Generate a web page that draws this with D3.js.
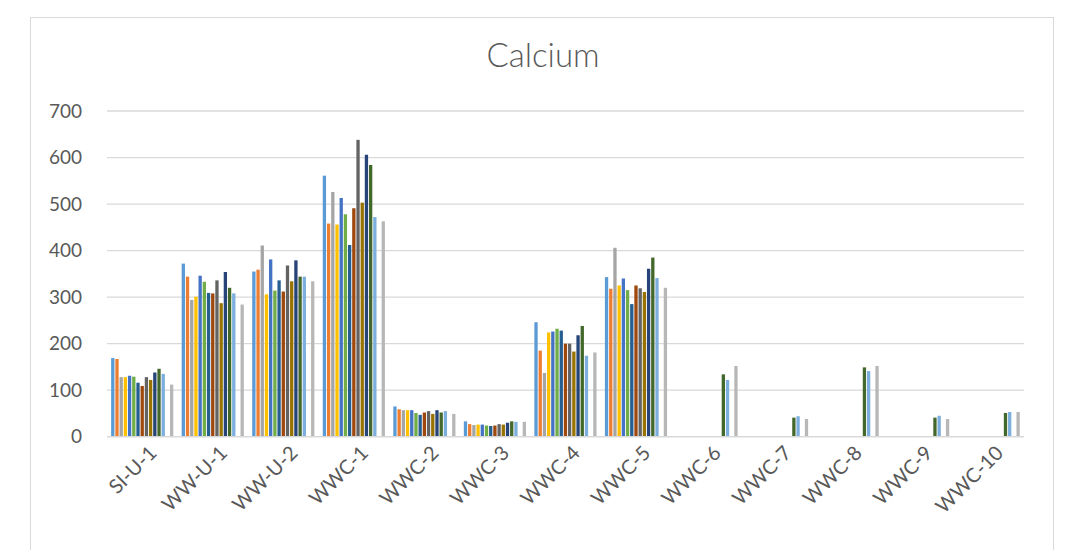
<!DOCTYPE html>
<html>
<head>
<meta charset="utf-8">
<script src="https://cdn.jsdelivr.net/npm/d3@7"></script>
<style>
  html, body { margin: 0; padding: 0; background: #fff; }
  svg { display: block; }
  text { font-family: Lato, "Open Sans", "Liberation Sans", sans-serif; fill: #595959; }
</style>
</head>
<body>
<svg id="chart" width="1065" height="550"></svg>
<script>
// Sample sites on the category axis
const categories = ["SI-U-1", "WW-U-1", "WW-U-2", "WWC-1", "WWC-2", "WWC-3", "WWC-4",
                    "WWC-5", "WWC-6", "WWC-7", "WWC-8", "WWC-9", "WWC-10"];

// Calcium readings, one array per series (null = no reading)
const series01 = [169, 372, 355, 561, 65, 33, 246, 343, null, null, null, null, null];
const series02 = [167, 344, 359, 458, 59, 27, 185, 318, null, null, null, null, null];
const series03 = [128, 294, 411, 526, 57, 25, 137, 406, null, null, null, null, null];
const series04 = [128, 301, 306, 456, 57, 26, 224, 325, null, null, null, null, null];
const series05 = [131, 346, 381, 513, 57, 26, 226, 340, null, null, null, null, null];
const series06 = [129, 333, 314, 478, 51, 24, 232, 315, null, null, null, null, null];
const series07 = [116, 309, 336, 412, 47, 23, 228, 285, null, null, null, null, null];
const series08 = [109, 308, 312, 491, 52, 24, 200, 325, null, null, null, null, null];
const series09 = [128, 336, 368, 638, 55, 27, 200, 319, null, null, null, null, null];
const series10 = [122, 287, 334, 503, 49, 26, 183, 311, null, null, null, null, null];
const series11 = [138, 354, 379, 606, 57, 30, 218, 361, null, null, null, null, null];
const series12 = [146, 320, 344, 584, 52, 33, 238, 385, 134, 41, 149, 41, 51];
const series13 = [135, 308, 344, 472, 55, 32, 174, 341, 122, 44, 141, 45, 53];
const series14 = [null, null, null, null, null, null, null, null, null, null, null, null, null];
const series15 = [112, 284, 334, 463, 49, 32, 181, 320, 152, 38, 152, 38, 53];

// Value axis tick labels
const yTicks = [0, 100, 200, 300, 400, 500, 600, 700];

const allSeries = [series01, series02, series03, series04, series05, series06, series07, series08,
                   series09, series10, series11, series12, series13, series14, series15];

// Office palette for the fifteen series
const palette = ["#5B9BD5", "#ED7D31", "#A5A5A5", "#FFC000", "#4472C4", "#70AD47", "#255E91",
                 "#9E480E", "#636363", "#997300", "#264478", "#43682B", "#7CAFDD", "#F1975A", "#B7B7B7"];

const svg = d3.select("#chart");

// Chart area frame
svg.append("rect")
  .attr("x", 30.5).attr("y", 17.5)
  .attr("width", 1023).attr("height", 560)
  .attr("fill", "#fff")
  .attr("stroke", "#D9D9D9").attr("stroke-width", 1);

const plot = { left: 107, right: 1024, top: 111, bottom: 436.7 };

const x0 = d3.scaleBand()
  .domain(categories)
  .range([plot.left, plot.right])
  .padding(0);

const catW = x0.bandwidth();
const x1 = d3.scaleBand()
  .domain(d3.range(allSeries.length))
  .range([catW * 0.053, catW * 0.947])
  .padding(0);

const y = d3.scaleLinear()
  .domain([0, 700])
  .range([plot.bottom, plot.top]);

// Gridlines
svg.append("g")
  .selectAll("line")
  .data(yTicks.filter(d => d > 0))
  .join("line")
  .attr("x1", plot.left).attr("x2", plot.right)
  .attr("y1", d => y(d)).attr("y2", d => y(d))
  .attr("stroke", "#D9D9D9").attr("stroke-width", 1.3);

// Value axis labels
const yAxis = d3.axisLeft(y).tickValues(yTicks).tickSize(0).tickPadding(0);
const yg = svg.append("g")
  .attr("transform", `translate(${plot.left - 25},0)`)
  .call(yAxis);
yg.select(".domain").remove();
yg.selectAll("text")
  .style("font-size", "19px")
  .attr("fill", "#595959");

// Bars
const groups = svg.append("g")
  .selectAll("g")
  .data(categories)
  .join("g")
  .attr("transform", d => `translate(${x0(d)},0)`);

groups.selectAll("rect")
  .data((c, ci) => allSeries.map((s, si) => ({ si, v: s[ci] })).filter(d => d.v != null))
  .join("rect")
  .attr("x", d => x1(d.si) + 0.4)
  .attr("width", x1.bandwidth() - 0.9)
  .attr("y", d => y(d.v))
  .attr("height", d => y(0) - y(d.v))
  .attr("fill", d => palette[d.si]);

// Category axis line
svg.append("line")
  .attr("x1", plot.left).attr("x2", plot.right)
  .attr("y1", y(0)).attr("y2", y(0))
  .attr("stroke", "#D9D9D9").attr("stroke-width", 1.5);

// Category axis labels, rotated
const xAxis = d3.axisBottom(x0).tickSize(0).tickPadding(0);
const xg = svg.append("g")
  .attr("transform", `translate(0,${y(0)})`)
  .call(xAxis);
xg.select(".domain").remove();
xg.selectAll("text")
  .style("font-size", "20px")
  .attr("fill", "#595959")
  .attr("text-anchor", "end")
  .attr("transform", "translate(5,7) rotate(-45)")
  .attr("y", 0).attr("x", 0)
  .attr("dy", "0.75em");

// Title
svg.append("text")
  .attr("x", 543).attr("y", 67)
  .attr("text-anchor", "middle")
  .style("font-size", "33px")
  .style("font-weight", "300")
  .text("Calcium");
</script>
</body>
</html>
